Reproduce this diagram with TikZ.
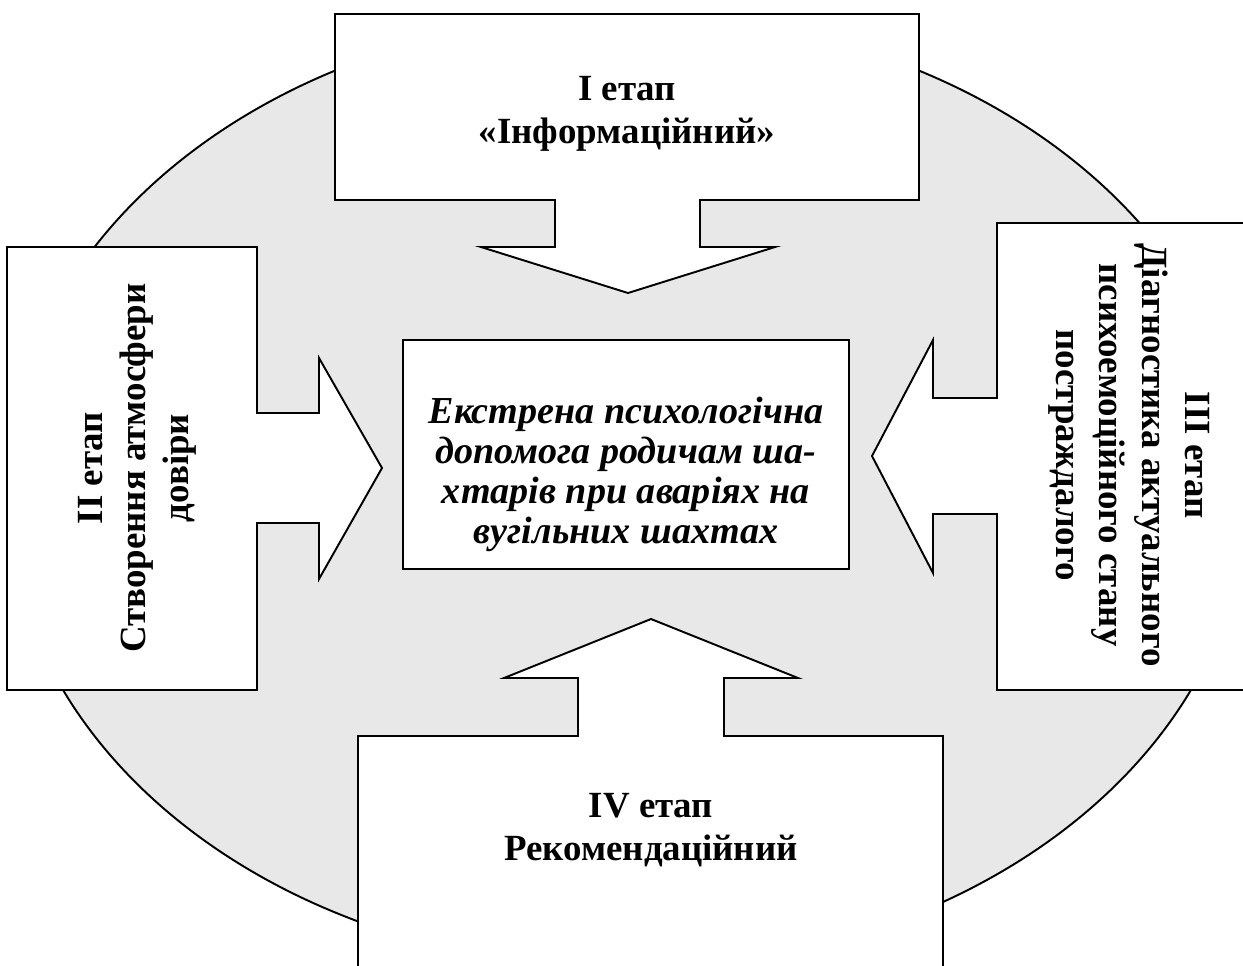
\documentclass[tikz,border=0pt]{standalone}
\usepackage{fontspec}
\setmainfont{Liberation Serif}
\begin{document}
\begin{tikzpicture}[x=0.02cm, y=-0.02cm,
  outline/.style={draw=black, line width=1.1pt, line join=miter},
  callout/.style={outline, fill=white},
  label/.style={font=\fontsize{21}{24.4}\selectfont\bfseries, align=center, inner sep=0pt},
  centertext/.style={font=\fontsize{21.7}{22.8}\selectfont\bfseries\itshape, align=center, inner sep=0pt}]
\useasboundingbox (0,0) rectangle (1243,965);
\clip (0,0) rectangle (1243,965);
% background ellipse
\path[outline, fill={rgb,255:red,232;green,232;blue,232}] (627,491.5) ellipse [x radius=620, y radius=477];
% top callout (I)
\path[callout] (335,14) -- (919,14) -- (919,200) -- (700,200) -- (700,247) -- (775,247)
  -- (628,293) -- (481,247) -- (555,247) -- (555,200) -- (335,200) -- cycle;
% left callout (II)
\path[callout] (7,247) -- (257,247) -- (257,413) -- (319,413) -- (319,358) -- (382,468)
  -- (319,579) -- (319,523) -- (257,523) -- (257,690) -- (7,690) -- cycle;
% right callout (III)
\path[callout] (1270,223) -- (997,223) -- (997,398) -- (933,398) -- (933,340) -- (872,456)
  -- (933,573) -- (933,514) -- (997,514) -- (997,690) -- (1270,690) -- cycle;
% bottom callout (IV)
\path[callout] (358,990) -- (358,736) -- (578,736) -- (578,678) -- (504,678) -- (651,619)
  -- (798,678) -- (724,678) -- (724,736) -- (943,736) -- (943,990) -- cycle;
% centre box
\node[outline, fill=white, minimum width=446*0.02cm, minimum height=229*0.02cm, inner sep=0pt] (centre) at (626,454.5) {};
\node[centertext] (centretext) at (626,474) {Екстрена психологічна\\допомога родичам ша-\\хтарів при аваріях на\\вугільних шахтах};
% labels
\node[label] (stage1) at (627,114) {I етап\\«Інформаційний»};
\node[label, rotate=90] (stage2) at (137,468) {II етап\\Створення атмосфери\\довіри};
\node[label, rotate=-90] (stage3) at (1129,455) {III етап\\Діагностика актуального\\психоемоційного стану\\постраждалого};
\node[label] (stage4) at (651,830) {IV етап\\Рекомендаційний};
\end{tikzpicture}
\end{document}
